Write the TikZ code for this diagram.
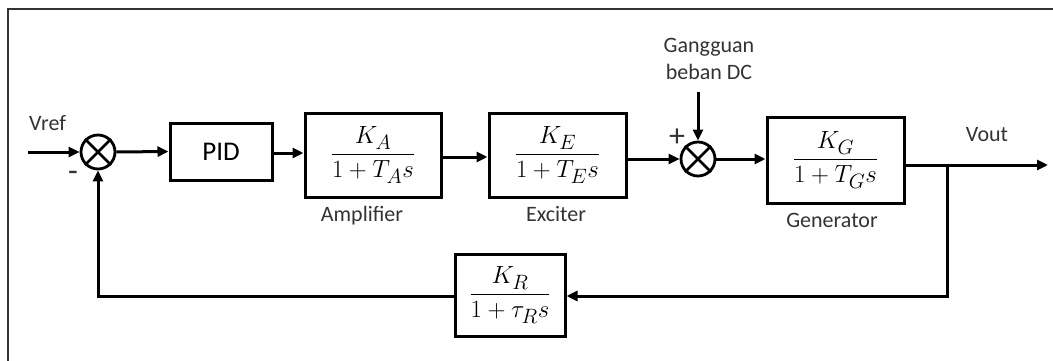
\documentclass[tikz,border=0pt]{standalone}
\usepackage{amsmath}
\usepackage{fontspec}
\setmainfont{Carlito}
\usetikzlibrary{arrows.meta}
\definecolor{labelgray}{HTML}{333333}
\begin{document}
\begin{tikzpicture}[x=1pt,y=-1pt,
  wire/.style={line width=3pt},
  arr/.style={wire, -{Triangle[length=11pt,width=10pt]}},
  blk/.style={draw, line width=3pt, inner sep=0pt, font=\fontsize{28.5}{32}\selectfont},
  sumj/.style={draw, circle, line width=2.8pt, minimum size=34pt, inner sep=0pt},
  lbl/.style={text=labelgray, font=\fontsize{22}{26}\selectfont, inner sep=0pt}
]
\useasboundingbox (0,0) rectangle (1053,361);
% outer frame
\draw[line width=1.4pt, black!80] (8,361) -- (8,9) -- (1053,9);

% summing junctions
\node[sumj] (s1) at (98,152) {};
\draw[line width=2.8pt] (s1.north west) -- (s1.south east) (s1.north east) -- (s1.south west);
\node[sumj] (s2) at (698,159) {};
\draw[line width=2.8pt] (s2.north west) -- (s2.south east) (s2.north east) -- (s2.south west);

% blocks
\node[blk, minimum width=102pt, minimum height=57pt, font=\fontsize{27}{30}\selectfont] (pid) at (221,151.5) {PID};
\node[blk, minimum width=136pt, minimum height=84pt] (amp) at (373,155) {$\dfrac{K_A}{1+T_A s}$};
\node[blk, minimum width=137pt, minimum height=84pt] (exc) at (557.5,155) {$\dfrac{K_E}{1+T_E s}$};
\node[blk, minimum width=137pt, minimum height=86pt] (gen) at (835.5,160) {$\dfrac{K_G}{1+T_G s}$};
\node[blk, minimum width=110pt, minimum height=82pt] (fb) at (510,295) {$\dfrac{K_R}{1+\tau_R s}$};

% text labels
\node[lbl, anchor=base west] (vref) at (29,130) {Vref};
\node[lbl, anchor=base] (vout) at (987,142) {Vout};
\node[lbl, anchor=base] (lamp) at (362,221) {Amplifier};
\node[lbl, anchor=base] (lexc) at (556,221) {Exciter};
\node[lbl, anchor=base] (lgen) at (832,227) {Generator};
\node[lbl, anchor=base] (dist1) at (709,53) {Gangguan};
\node[lbl, anchor=base] (dist2) at (709,80) {beban DC};
\node[lbl, font=\fontsize{32}{34}\selectfont] (plus) at (677,138) {+};
\node[lbl, font=\fontsize{32}{34}\selectfont] (minus) at (73,176) {-};

% connection points
\coordinate (in) at (28,152);
\coordinate (dtop) at (698,92);
\coordinate (out) at (1048,165);
\coordinate (branch) at (947,165);
\coordinate (fbright) at (947,296);
\coordinate (fbleft) at (98,296);

% forward path
\draw[arr] (in) -- (s1.west);
\draw[arr] (s1.east) -- (pid.west);
\draw[arr] (pid.east |- 0,153) -- (amp.west |- 0,153);
\draw[arr] (amp.east |- 0,157) -- (exc.west |- 0,157);
\draw[arr] (exc.east |- s2.west) -- (s2.west);
\draw[arr] (dtop) -- (s2.north);
\draw[arr] (s2.east) -- (gen.west |- s2.east);
\draw[arr] (gen.east |- out) -- (out);

% feedback path
\draw[arr] (branch) -- (fbright) -- (fb.east |- fbright);
\draw[arr] (fb.west |- fbleft) -- (fbleft) -- (s1.south);
\end{tikzpicture}
\end{document}
